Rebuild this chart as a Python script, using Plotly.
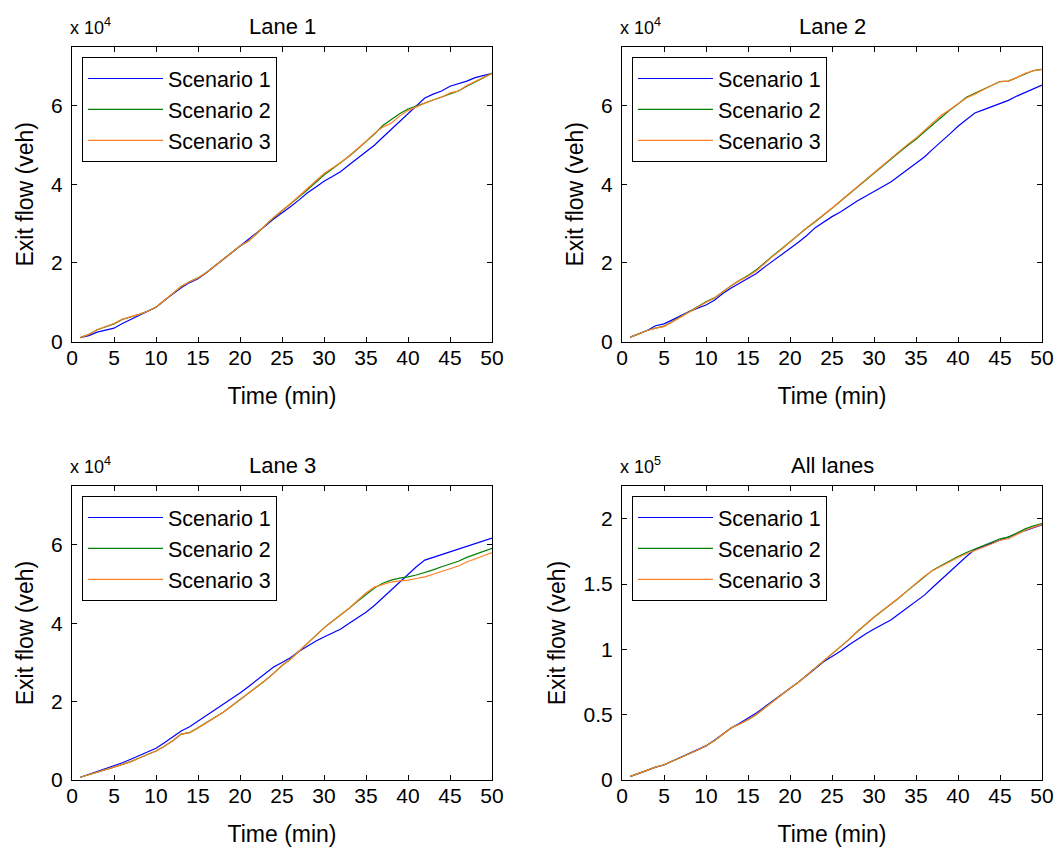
import plotly.graph_objects as go

W, H = 1056, 847

minutes = list(range(1, 51))

# Lane 1 (x 10^4 veh)
lane1_s1 = [0.10, 0.15, 0.24, 0.29, 0.34, 0.46, 0.56, 0.66, 0.77, 0.87,
            1.05, 1.22, 1.37, 1.50, 1.60, 1.75, 1.92, 2.09, 2.26, 2.43,
            2.58, 2.75, 2.94, 3.12, 3.27, 3.43, 3.60, 3.78, 3.93, 4.08,
            4.20, 4.33, 4.50, 4.66, 4.82, 5.00, 5.20, 5.40, 5.60, 5.80,
            6.00, 6.20, 6.30, 6.38, 6.50, 6.56, 6.63, 6.72, 6.78, 6.83]
lane1_s2 = [0.10, 0.18, 0.30, 0.38, 0.45, 0.56, 0.62, 0.69, 0.77, 0.87,
            1.04, 1.22, 1.40, 1.52, 1.62, 1.76, 1.93, 2.10, 2.27, 2.43,
            2.55, 2.74, 2.95, 3.15, 3.32, 3.50, 3.68, 3.86, 4.05, 4.24,
            4.40, 4.55, 4.72, 4.90, 5.08, 5.28, 5.50, 5.65, 5.80, 5.92,
            6.00, 6.07, 6.15, 6.22, 6.32, 6.38, 6.50, 6.62, 6.72, 6.83]
lane1_s3 = [0.10, 0.18, 0.30, 0.38, 0.46, 0.57, 0.62, 0.69, 0.77, 0.88,
            1.05, 1.23, 1.40, 1.52, 1.62, 1.76, 1.93, 2.10, 2.27, 2.43,
            2.56, 2.75, 2.96, 3.16, 3.33, 3.51, 3.70, 3.90, 4.10, 4.28,
            4.42, 4.56, 4.73, 4.91, 5.10, 5.30, 5.46, 5.56, 5.74, 5.88,
            5.98, 6.07, 6.15, 6.22, 6.33, 6.38, 6.52, 6.63, 6.73, 6.83]

# Lane 2 (x 10^4 veh)
lane2_s1 = [0.11, 0.20, 0.28, 0.40, 0.45, 0.55, 0.66, 0.76, 0.85, 0.93,
            1.05, 1.22, 1.36, 1.48, 1.60, 1.73, 1.90, 2.05, 2.21, 2.37,
            2.53, 2.70, 2.90, 3.05, 3.18, 3.30, 3.45, 3.58, 3.70, 3.82,
            3.94, 4.06, 4.22, 4.38, 4.52, 4.70, 4.90, 5.08, 5.28, 5.48,
            5.66, 5.82, 5.90, 5.98, 6.07, 6.14, 6.25, 6.35, 6.44, 6.53]
lane2_s2 = [0.11, 0.20, 0.28, 0.34, 0.39, 0.51, 0.64, 0.77, 0.89, 1.01,
            1.11, 1.27, 1.42, 1.56, 1.68, 1.83, 2.02, 2.19, 2.36, 2.54,
            2.72, 2.89, 3.05, 3.21, 3.39, 3.57, 3.75, 3.94, 4.12, 4.30,
            4.47, 4.64, 4.82, 4.99, 5.15, 5.34, 5.52, 5.72, 5.89, 6.05,
            6.22, 6.32, 6.42, 6.52, 6.62, 6.63, 6.72, 6.83, 6.90, 6.93]
lane2_s3 = [0.11, 0.20, 0.28, 0.34, 0.38, 0.50, 0.63, 0.76, 0.88, 1.00,
            1.10, 1.26, 1.42, 1.55, 1.66, 1.80, 2.00, 2.18, 2.35, 2.54,
            2.72, 2.90, 3.06, 3.22, 3.40, 3.58, 3.76, 3.96, 4.14, 4.32,
            4.50, 4.68, 4.86, 5.02, 5.18, 5.38, 5.58, 5.76, 5.90, 6.05,
            6.20, 6.30, 6.42, 6.52, 6.62, 6.63, 6.72, 6.83, 6.90, 6.93]

# Lane 3 (x 10^4 veh)
lane3_s1 = [0.07, 0.14, 0.22, 0.30, 0.36, 0.44, 0.53, 0.62, 0.71, 0.81,
            0.95, 1.10, 1.25, 1.36, 1.50, 1.64, 1.78, 1.92, 2.06, 2.22,
            2.38, 2.55, 2.72, 2.88, 3.00, 3.12, 3.28, 3.42, 3.54, 3.65,
            3.76, 3.85, 4.00, 4.14, 4.28, 4.45, 4.65, 4.86, 5.05, 5.25,
            5.44, 5.61, 5.68, 5.74, 5.82, 5.88, 5.95, 6.02, 6.09, 6.17]
lane3_s2 = [0.07, 0.13, 0.20, 0.26, 0.33, 0.40, 0.47, 0.56, 0.65, 0.74,
            0.86, 1.00, 1.17, 1.21, 1.33, 1.46, 1.60, 1.73, 1.89, 2.05,
            2.20, 2.37, 2.54, 2.72, 2.92, 3.08, 3.28, 3.50, 3.70, 3.88,
            4.05, 4.21, 4.38, 4.56, 4.73, 4.90, 5.02, 5.10, 5.15, 5.18,
            5.23, 5.29, 5.36, 5.44, 5.51, 5.58, 5.68, 5.76, 5.82, 5.91]
lane3_s3 = [0.07, 0.13, 0.20, 0.26, 0.33, 0.40, 0.47, 0.56, 0.65, 0.74,
            0.86, 1.00, 1.17, 1.21, 1.33, 1.46, 1.60, 1.73, 1.89, 2.05,
            2.20, 2.37, 2.54, 2.72, 2.92, 3.08, 3.28, 3.50, 3.70, 3.88,
            4.05, 4.21, 4.38, 4.58, 4.77, 4.92, 4.99, 5.05, 5.08, 5.10,
            5.14, 5.18, 5.25, 5.32, 5.40, 5.46, 5.56, 5.65, 5.72, 5.80]

# All lanes (x 10^5 veh)
all_s1 = [0.028, 0.049, 0.074, 0.099, 0.115, 0.145, 0.175, 0.204, 0.233, 0.261,
          0.305, 0.354, 0.398, 0.434, 0.470, 0.512, 0.560, 0.606, 0.653, 0.702,
          0.749, 0.800, 0.856, 0.905, 0.945, 0.985, 1.033, 1.078, 1.117, 1.155,
          1.190, 1.224, 1.272, 1.318, 1.362, 1.415, 1.475, 1.534, 1.593, 1.653,
          1.710, 1.763, 1.788, 1.810, 1.839, 1.858, 1.883, 1.909, 1.931, 1.953]
all_s2 = [0.028, 0.051, 0.078, 0.098, 0.117, 0.147, 0.172, 0.201, 0.230, 0.262,
          0.301, 0.349, 0.399, 0.428, 0.461, 0.502, 0.553, 0.601, 0.651, 0.702,
          0.748, 0.802, 0.856, 0.910, 0.965, 1.017, 1.074, 1.134, 1.192, 1.246,
          1.295, 1.343, 1.395, 1.449, 1.501, 1.558, 1.606, 1.642, 1.679, 1.711,
          1.741, 1.766, 1.793, 1.818, 1.846, 1.859, 1.892, 1.922, 1.945, 1.962]
all_s3 = [0.028, 0.051, 0.078, 0.098, 0.117, 0.147, 0.172, 0.201, 0.230, 0.262,
          0.301, 0.349, 0.399, 0.428, 0.461, 0.502, 0.553, 0.601, 0.651, 0.702,
          0.748, 0.802, 0.856, 0.910, 0.965, 1.017, 1.074, 1.136, 1.194, 1.248,
          1.297, 1.345, 1.397, 1.451, 1.505, 1.560, 1.603, 1.637, 1.672, 1.703,
          1.732, 1.755, 1.782, 1.806, 1.835, 1.847, 1.880, 1.911, 1.935, 1.956]

scenario_names = ["Scenario 1", "Scenario 2", "Scenario 3"]
panel_titles = ["Lane 1", "Lane 2", "Lane 3", "All lanes"]
panel_exponents = ["4", "4", "4", "5"]
panel_series = [
    [lane1_s1, lane1_s2, lane1_s3],
    [lane2_s1, lane2_s2, lane2_s3],
    [lane3_s1, lane3_s2, lane3_s3],
    [all_s1, all_s2, all_s3],
]
y_ranges = [[0, 7.5], [0, 7.5], [0, 7.5], [0, 2.25]]
y_dticks = [2, 2, 2, 0.5]
x_ticks = list(range(0, 51, 5))

colors = ["#0000ff", "#008000", "#ff7f27"]
FONT = "Liberation Sans, Arial, Helvetica, sans-serif"

# panel pixel boxes: (left, top, right, bottom)
boxes = [(72, 47, 492, 341.5), (622, 47, 1042, 341.5),
         (72, 486, 492, 780), (622, 486, 1042, 780)]

fig = go.Figure()
layout = dict(
    width=W, height=H,
    margin=dict(l=0, r=0, t=0, b=0, autoexpand=False),
    paper_bgcolor="white", plot_bgcolor="white",
    font=dict(family=FONT, size=20, color="black"),
    annotations=[],
)

for i, (series, box) in enumerate(zip(panel_series, boxes)):
    n = "" if i == 0 else str(i + 1)
    xa, ya = "x" + n, "y" + n
    leg = "legend" + n
    for s, vals in enumerate(series):
        fig.add_trace(go.Scatter(
            x=minutes, y=vals, mode="lines", name=scenario_names[s],
            line=dict(color=colors[s], width=1.2),
            xaxis=xa, yaxis=ya, legend=leg, showlegend=True,
        ))
    l, t, r, b = box
    xd = [l / W, r / W]
    yd = [1 - b / H, 1 - t / H]
    axis_common = dict(
        showline=True, linecolor="black", linewidth=1, mirror="ticks",
        ticks="inside", ticklen=5, tickcolor="black", showgrid=False,
        zeroline=False, automargin=False,
        tickfont=dict(family=FONT, size=21, color="black"),
    )
    layout["xaxis" + n] = dict(
        domain=xd, range=[0, 50], tickvals=x_ticks, anchor=ya,
        ticklabelstandoff=-3,
        title=dict(text="Time (min)", font=dict(size=23), standoff=20),
        **axis_common,
    )
    layout["yaxis" + n] = dict(
        domain=yd, range=y_ranges[i], dtick=y_dticks[i], tick0=0, anchor=xa,
        ticklabelstandoff=4,
        title=dict(text="Exit flow (veh)", font=dict(size=23), standoff=11),
        **axis_common,
    )
    layout[leg] = dict(
        x=(l + 10) / W, y=1 - (t + 10) / H, xanchor="left", yanchor="top",
        bgcolor="white", bordercolor="black", borderwidth=1,
        font=dict(family=FONT, size=21.5, color="black"),
        itemwidth=75, tracegroupgap=0,
    )
    layout["annotations"].append(dict(
        text=panel_titles[i], x=(l + r) / 2 / W, y=1 - (t - 6) / H,
        xref="paper", yref="paper", xanchor="center", yanchor="bottom",
        showarrow=False, font=dict(family=FONT, size=22),
    ))
    layout["annotations"].append(dict(
        text="x 10<sup>" + panel_exponents[i] + "</sup>", x=(l - 4) / W,
        y=1 - (t - 7) / H, xref="paper", yref="paper", xanchor="left",
        yanchor="bottom", showarrow=False, font=dict(family=FONT, size=18),
    ))

fig.update_layout(**layout)
fig.write_html("out.html", config={"displayModeBar": False},
               post_script="document.body.style.margin='0';")
